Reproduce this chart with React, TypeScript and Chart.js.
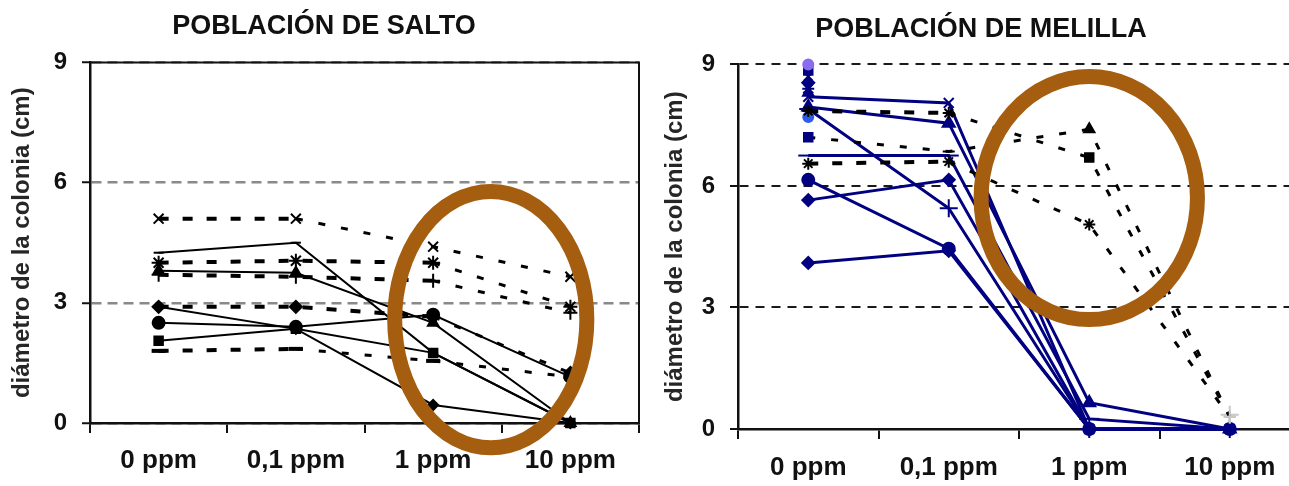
import React, { useEffect, useRef } from 'react';
import { Chart, registerables } from 'chart.js';

Chart.register(...registerables);

// ---------- shared ----------
const categories = ['0 ppm', '0,1 ppm', '1 ppm', '10 ppm'];
const yMin = 0;
const yMax = 9;
const yStep = 3;
const yTitle = 'diámetro de la colonia (cm)';

// ---------- Población de Salto ----------
const saltoTitle = 'POBLACIÓN DE SALTO';
// dashed series
const saltoDashX = [5.1, 5.1, 4.4, 3.65];
const saltoDashStar = [4.0, 4.05, 4.0, 2.9];
const saltoDashPlus = [3.7, 3.65, 3.55, 2.75];
const saltoDashDiamond = [2.9, 2.9, 2.65, 1.25];
const saltoDashDash = [1.8, 1.85, 1.55, 1.15];
// solid series
const saltoSolidDash = [4.25, 4.5, 1.75, 0];
const saltoSolidTriangle = [3.8, 3.75, 2.5, 0];
const saltoSolidDiamond = [2.9, 2.35, 0.45, 0];
const saltoSolidCircle = [2.5, 2.4, 2.7, 1.15];
const saltoSolidSquare = [2.05, 2.35, 1.75, 0];

// ---------- Población de Melilla ----------
const melillaTitle = 'POBLACIÓN DE MELILLA';
// solid (blue) series
const melillaX = [8.2, 8.05, 0, 0];
const melillaTriangle = [7.95, 7.55, 0.65, 0];
const melillaPlus = [7.9, 5.45, 0, 0];
const melillaDash = [6.75, 6.75, 0.25, 0];
const melillaCircle = [6.15, 4.45, 0, 0];
const melillaDiamondA = [5.65, 6.15, 0, 0];
const melillaDiamondB = [4.1, 4.4, 0, 0];
// colonies measured only at 0 ppm
const melillaOnly0a = [9.0, null, null, null];
const melillaOnly0b = [8.85, null, null, null];
const melillaOnly0c = [8.7, null, null, null];
const melillaOnly0d = [8.55, null, null, null];
const melillaOnly0e = [8.4, null, null, null];
const melillaOnly0f = [8.3, null, null, null];
const melillaOnly0g = [7.7, null, null, null];
// dashed (black) series
const melillaDashA = [7.85, 7.8, 6.7, 0.3];
const melillaDashB = [7.2, 6.85, 7.4, 0.3];
const melillaDashC = [6.55, 6.6, 5.05, 0.3];
const melillaGrayPlus = [null, null, null, 0.35];

const FONT = "'Liberation Sans', Arial, sans-serif";

type PS = string | string[];

function ds(
  data: (number | null)[],
  color: string,
  dashed: boolean,
  pointStyle: PS,
  radius: number,
  opts: any = {}
) {
  const base: any = {
    data,
    borderColor: color,
    backgroundColor: color,
    borderWidth: dashed ? 4 : 2,
    borderDash: dashed ? [10, 14] : [],
    pointStyle,
    pointRadius: radius,
    pointBackgroundColor: opts.pointColors || color,
    pointBorderColor: opts.pointColors || color,
    pointBorderWidth: opts.pbw ?? 2,
    tension: 0,
    clip: false,
    spanGaps: false,
  };
  if (dashed) {
    // steep dashed segments render with thinner, sparser dashes in the original
    base.segment = {
      borderWidth: (c: any) =>
        Math.abs(c.p1.parsed.y - c.p0.parsed.y) > 0.3 ? 3 : undefined,
      borderDash: (c: any) =>
        Math.abs(c.p1.parsed.y - c.p0.parsed.y) > 0.3 ? [7, 16] : undefined,
    };
  }
  return { ...base, ...(opts.extra || {}) };
}

const highlightPlugin = {
  id: 'highlight',
  afterDatasetsDraw(chart: any, _args: any, o: any) {
    if (!o || o.cx === undefined) return;
    const { ctx } = chart;
    const x = chart.scales.x;
    const y = chart.scales.y;
    const cx = x.getPixelForValue(o.cx);
    const cy = y.getPixelForValue(o.cy);
    const rx = Math.abs(x.getPixelForValue(o.cx + o.rx) - cx);
    const ry = Math.abs(y.getPixelForValue(o.cy + o.ry) - cy);
    ctx.save();
    ctx.beginPath();
    ctx.ellipse(cx, cy, rx, ry, 0, 0, Math.PI * 2);
    ctx.strokeStyle = o.color;
    ctx.lineWidth = o.width;
    ctx.stroke();
    ctx.restore();
  },
};

const boxPlugin = {
  id: 'box',
  beforeDatasetsDraw(chart: any, _args: any, o: any) {
    if (!o || !o.show) return;
    const { ctx, chartArea } = chart;
    ctx.save();
    ctx.strokeStyle = '#111';
    ctx.lineWidth = 2;
    ctx.beginPath();
    ctx.moveTo(chartArea.left, chartArea.top);
    ctx.lineTo(chartArea.right, chartArea.top);
    ctx.lineTo(chartArea.right, chartArea.bottom);
    ctx.stroke();
    ctx.restore();
  },
};

function makeOptions(p: {
  title: string;
  titlePad: { top: number; bottom: number };
  yWidth: number;
  xHeight: number;
  yTitlePad: number;
  xTickPad: number;
  gridColor: string;
  gridWidth: number;
  gridDash: number[];
  box: boolean;
  ellipse: any;
  padRight: number;
}) {
  return {
    responsive: false,
    animation: false,
    layout: { padding: { left: 0, right: p.padRight, top: 0, bottom: 0 } },
    plugins: {
      legend: { display: false },
      tooltip: { enabled: false },
      title: {
        display: true,
        text: p.title,
        color: '#111',
        font: { family: FONT, size: 27, weight: 'bold' },
        padding: p.titlePad,
      },
      highlight: p.ellipse,
      box: { show: p.box },
    },
    scales: {
      x: {
        type: 'category',
        offset: true,
        grid: {
          offset: true,
          drawOnChartArea: false,
          drawTicks: true,
          tickLength: 10,
          color: '#111',
          lineWidth: 2,
        },
        border: { display: true, color: '#111', width: 2.5 },
        ticks: {
          color: '#111',
          padding: p.xTickPad,
          font: { family: FONT, size: 26, weight: 'bold' },
          maxRotation: 0,
          autoSkip: false,
        },
        afterFit(scale: any) {
          scale.height = p.xHeight;
          scale.paddingLeft = 0;
          scale.paddingRight = 0;
        },
      },
      y: {
        min: yMin,
        max: yMax,
        grid: {
          color: p.gridColor,
          lineWidth: p.gridWidth,
          drawTicks: true,
          tickLength: 8,
          tickColor: '#111',
          tickWidth: 2,
        },
        border: { display: true, color: '#111', width: 2.5, dash: p.gridDash },
        ticks: {
          stepSize: yStep,
          color: '#111',
          padding: 15,
          font: { family: FONT, size: 24, weight: 'bold' },
        },
        title: {
          display: true,
          text: yTitle,
          color: '#262626',
          font: { family: FONT, size: 24, weight: 'bold' },
          padding: { top: p.yTitlePad, bottom: 0 },
        },
        afterFit(scale: any) {
          scale.width = p.yWidth;
        },
      },
    },
  };
}

const BLACK = '#000000';
const NAVY = '#000080';
const LIGHT = '#c8c8c8';

function ChartPanel({ config, width, left }: { config: any; width: number; left: number }) {
  const ref = useRef<HTMLCanvasElement | null>(null);
  useEffect(() => {
    if (!ref.current) return;
    const chart = new Chart(ref.current, config);
    return () => chart.destroy();
  }, []);
  return (
    <canvas
      ref={ref}
      width={width}
      height={486}
      style={{ position: 'absolute', left, top: 0, width, height: 486 }}
    />
  );
}

export default function App() {
  const blue = { extra: { borderWidth: 3 } };
  const saltoConfig = {
    type: 'line',
    data: {
      labels: categories,
      datasets: [
        ds(saltoSolidDash, BLACK, false, 'line', 5),
        ds(saltoSolidTriangle, BLACK, false, 'triangle', 6),
        ds(saltoSolidDiamond, BLACK, false, 'rectRot', 5),
        ds(saltoSolidCircle, BLACK, false, 'circle', 6),
        ds(saltoSolidSquare, BLACK, false, 'rect', 6),
        ds(saltoDashX, BLACK, true, 'crossRot', 7),
        ds(saltoDashStar, BLACK, true, 'star', 7),
        ds(saltoDashPlus, BLACK, true, 'cross', 7),
        ds(saltoDashDiamond, BLACK, true, 'rectRot', 6),
        ds(saltoDashDash, BLACK, true, 'line', 7, { pbw: 4 }),
      ],
    },
    options: makeOptions({
      title: saltoTitle,
      titlePad: { top: 10, bottom: 20 },
      yWidth: 90,
      xHeight: 63,
      yTitlePad: 8,
      xTickPad: 12,
      gridColor: '#8a8a8a',
      gridWidth: 2.5,
      gridDash: [10, 6],
      box: true,
      ellipse: { cx: 2.42, cy: 2.58, rx: 0.7, ry: 3.2, color: '#A55E10', width: 15 },
      padRight: 2,
    }),
    plugins: [highlightPlugin, boxPlugin],
  };

  const melillaConfig = {
    type: 'line',
    data: {
      labels: categories,
      datasets: [
        ds(melillaDashA, BLACK, true, ['star', 'star', 'rect', 'cross'], 6, {
          pointColors: [BLACK, BLACK, BLACK, LIGHT],
        }),
        ds(melillaDashB, BLACK, true, ['rect', 'line', 'triangle', 'cross'], 6, {
          pointColors: [NAVY, BLACK, BLACK, LIGHT],
        }),
        ds(melillaDashC, BLACK, true, ['star', 'star', 'star', 'cross'], 6, {
          pointColors: [BLACK, BLACK, BLACK, LIGHT],
        }),
        ds(melillaGrayPlus, LIGHT, false, 'cross', 9),
        ds(melillaOnly0a, '#8a6cf0', false, 'circle', 5),
        ds(melillaOnly0b, NAVY, false, 'rect', 6),
        ds(melillaOnly0c, NAVY, false, 'crossRot', 6),
        ds(melillaOnly0d, NAVY, false, 'rectRot', 6),
        ds(melillaOnly0e, NAVY, false, 'star', 6),
        ds(melillaOnly0f, NAVY, false, 'triangle', 6),
        ds(melillaOnly0g, '#2f5be8', false, 'circle', 5),
        ds(melillaX, NAVY, false, 'crossRot', 7, blue),
        ds(melillaTriangle, NAVY, false, 'triangle', 7, blue),
        ds(melillaPlus, NAVY, false, 'cross', 9, blue),
        ds(melillaDash, NAVY, false, 'line', 10, blue),
        ds(melillaCircle, NAVY, false, 'circle', 6, blue),
        ds(melillaDiamondA, NAVY, false, 'rectRot', 6, blue),
        ds(melillaDiamondB, NAVY, false, 'rectRot', 6, blue),
      ],
    },
    options: makeOptions({
      title: melillaTitle,
      titlePad: { top: 13, bottom: 19 },
      yWidth: 88,
      xHeight: 57,
      yTitlePad: 11,
      xTickPad: 13,
      gridColor: '#1a1a1a',
      gridWidth: 2,
      gridDash: [9, 7],
      box: false,
      ellipse: { cx: 2.0, cy: 5.7, rx: 0.77, ry: 3.0, color: '#A55E10', width: 15 },
      padRight: 0,
    }),
    plugins: [highlightPlugin, boxPlugin],
  };

  return (
    <div
      style={{
        position: 'fixed',
        left: 0,
        top: 0,
        width: 1289,
        height: 486,
        overflow: 'hidden',
        background: '#ffffff',
      }}
    >
      <ChartPanel config={saltoConfig} width={650} left={0} />
      <ChartPanel config={melillaConfig} width={662} left={650} />
    </div>
  );
}
